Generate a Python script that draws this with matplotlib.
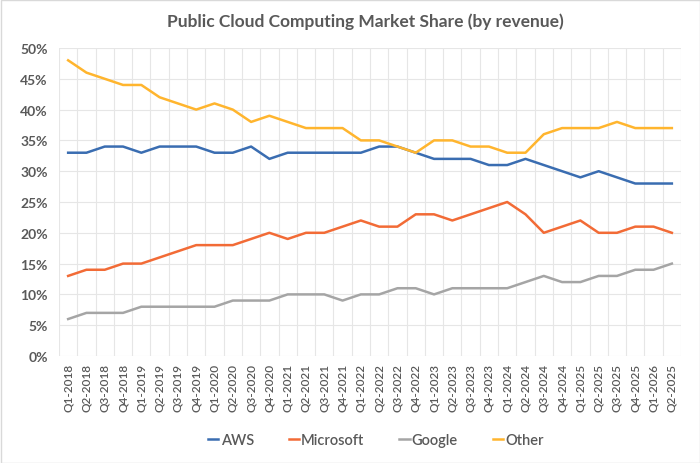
import matplotlib
matplotlib.use("Agg")
import matplotlib.pyplot as plt
from matplotlib.patches import Rectangle
from matplotlib.ticker import PercentFormatter, MultipleLocator, FixedLocator

plt.rcParams['font.family'] = ['Lato', 'DejaVu Sans']

quarters = ["Q1-2018", "Q2-2018", "Q3-2018", "Q4-2018", "Q1-2019", "Q2-2019", "Q3-2019", "Q4-2019",
            "Q1-2020", "Q2-2020", "Q3-2020", "Q4-2020", "Q1-2021", "Q2-2021", "Q3-2021", "Q4-2021",
            "Q1-2022", "Q2-2022", "Q3-2022", "Q4-2022", "Q1-2023", "Q2-2023", "Q3-2023", "Q4-2023",
            "Q1-2024", "Q2-2024", "Q3-2024", "Q4-2024", "Q1-2025", "Q2-2025", "Q3-2025", "Q4-2025",
            "Q1-2026", "Q2-2025"]

aws = [33, 33, 34, 34, 33, 34, 34, 34, 33, 33, 34, 32, 33, 33, 33, 33, 33,
       34, 34, 33, 32, 32, 32, 31, 31, 32, 31, 30, 29, 30, 29, 28, 28, 28]
microsoft = [13, 14, 14, 15, 15, 16, 17, 18, 18, 18, 19, 20, 19, 20, 20, 21, 22,
             21, 21, 23, 23, 22, 23, 24, 25, 23, 20, 21, 22, 20, 20, 21, 21, 20]
google = [6, 7, 7, 7, 8, 8, 8, 8, 8, 9, 9, 9, 10, 10, 10, 9, 10,
          10, 11, 11, 10, 11, 11, 11, 11, 12, 13, 12, 12, 13, 13, 14, 14, 15]
other = [48, 46, 45, 44, 44, 42, 41, 40, 41, 40, 38, 39, 38, 37, 37, 37, 35,
         35, 34, 33, 35, 35, 34, 34, 33, 33, 36, 37, 37, 37, 38, 37, 37, 37]

series = [("AWS", aws, "#3A6DB1"), ("Microsoft", microsoft, "#F26B36"),
          ("Google", google, "#A5A5A5"), ("Other", other, "#FFB52E")]

fig = plt.figure(figsize=(7, 4.64), dpi=100)
ax = fig.add_axes([59/700, 1-357/464, 622/700, 308/464])

x = list(range(len(quarters)))
for name, vals, col in series:
    ax.plot(x, vals, color=col, lw=1.8, label=name, solid_joinstyle='round')

ax.set_xlim(-0.5, len(quarters) - 0.5)
ax.set_ylim(0, 50)
ax.yaxis.set_major_locator(MultipleLocator(5))
ax.yaxis.set_major_formatter(PercentFormatter(decimals=0))
ax.set_xticks(x)
ax.set_xticklabels(quarters, rotation=90, fontsize=8.5, color="#595959")
ax.xaxis.set_minor_locator(FixedLocator([i - 0.5 for i in range(len(quarters) + 1)]))
ax.tick_params(axis='x', which='both', length=0, pad=5)
ax.tick_params(axis='y', length=0, labelsize=10, labelcolor="#595959", pad=8)
for lab in ax.get_yticklabels():
    lab.set_fontweight('bold')
for lab in ax.get_xticklabels():
    lab.set_fontweight('semibold')

ax.grid(axis='y', which='major', color="#E6E6E6", lw=0.8)
ax.grid(axis='x', which='minor', color="#E6E6E6", lw=0.8)
ax.grid(axis='x', which='major', visible=False)
for s in ax.spines.values():
    s.set_visible(False)
ax.set_axisbelow(True)

fig.text(365/700, 1-22/464, "Public Cloud Computing Market Share (by revenue)",
         ha='center', va='center', fontsize=12.5, fontweight='bold', color="#595959")

leg = fig.legend(loc='center', bbox_to_anchor=(376/700, 1-441/464), ncol=4, frameon=False,
                 handlelength=0.7, handletextpad=0.15, columnspacing=2.4,
                 prop={'size': 10.5, 'weight': 'semibold'})
for t in leg.get_texts():
    t.set_color("#595959")

fig.patches.append(Rectangle((0.5/700, 0.5/464), 1-1/700, 1-1/464, transform=fig.transFigure,
                             fill=False, edgecolor="#D9D9D9", lw=1))

fig.savefig("out.png", dpi=100)
